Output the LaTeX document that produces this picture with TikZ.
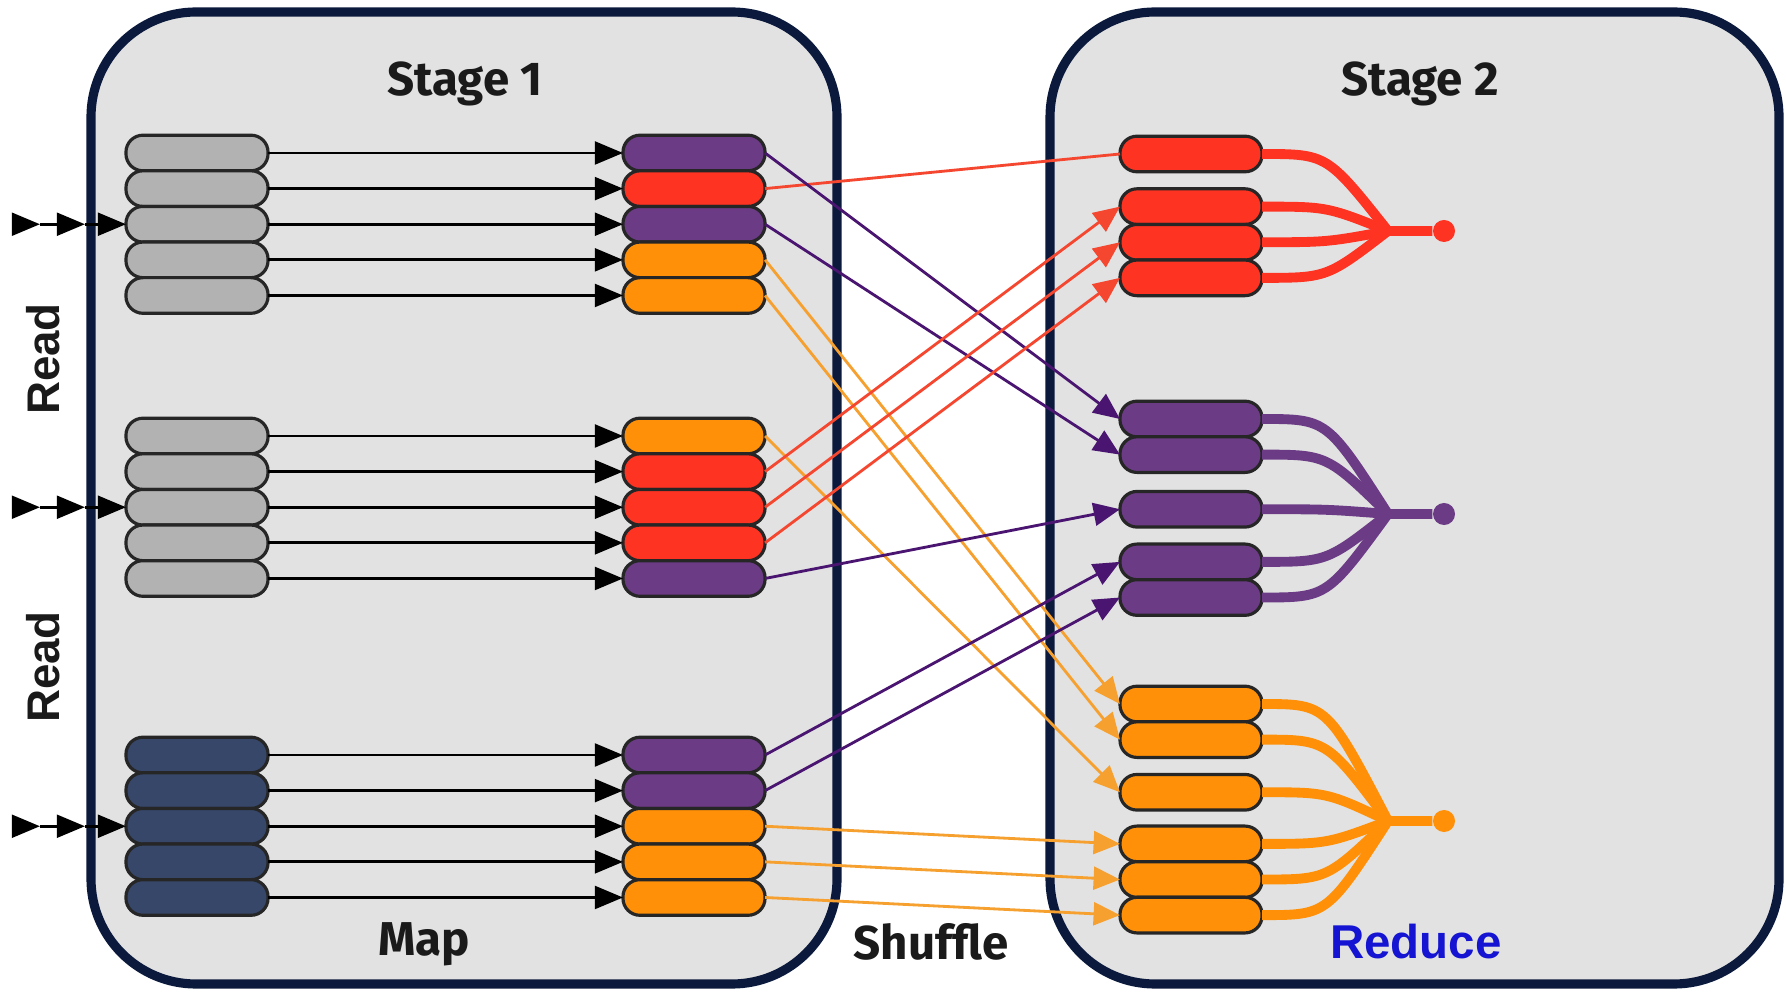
\documentclass[tikz,border=0pt]{standalone}
\usepackage{fontspec}
\setmainfont{Fira Sans}
\newfontfamily\readfont{Liberation Sans}
\usetikzlibrary{positioning,arrows.meta}

\definecolor{stageline}{HTML}{0B1A3C}
\definecolor{stagefill}{HTML}{E2E2E2}
\definecolor{rawgray}{HTML}{B2B2B2}
\definecolor{rawnavy}{HTML}{37476A}
\definecolor{kred}{HTML}{FF3322}
\definecolor{kpurple}{HTML}{6C3B86}
\definecolor{korange}{HTML}{FF9008}
\definecolor{redline}{HTML}{F5462F}
\definecolor{purline}{HTML}{4A1570}
\definecolor{oraline}{HTML}{F6A030}
\definecolor{reduceblue}{HTML}{1414D2}
\definecolor{labeltext}{HTML}{1A1A1A}

\begin{document}
\begin{tikzpicture}[x=0.01cm, y=-0.01cm, >={Triangle[length=8pt,width=6.5pt]}]
  % Define styles
  \tikzstyle{stage}=[draw=stageline, line width=2.6pt, fill=stagefill, rounded corners=1.05cm]
  \tikzstyle{pill}=[draw=black!85, line width=0.9pt, rounded corners=0.17cm, minimum width=1.42cm, minimum height=0.356cm, inner sep=0pt, outer sep=0pt]
  \tikzstyle{raw}=[pill, fill=rawgray]
  \tikzstyle{rawdark}=[pill, fill=rawnavy]
  \tikzstyle{redkey}=[pill, fill=kred]
  \tikzstyle{purkey}=[pill, fill=kpurple]
  \tikzstyle{orakey}=[pill, fill=korange]
  \tikzstyle{title}=[text=labeltext, font=\bfseries\fontsize{13.5}{16}\selectfont]
  \tikzstyle{readlabel}=[text=labeltext, font=\readfont\bfseries\fontsize{13}{16}\selectfont, rotate=90]
  \tikzstyle{sum}=[circle, inner sep=0pt, minimum size=0.22cm]
  \tikzstyle{mapline}=[->, black, line width=0.8pt]
  \tikzstyle{shuffle}=[-{Triangle[length=7.5pt,width=6.5pt]}, line width=0.8pt]
  \tikzstyle{reduce}=[line width=2.8pt]

  \fill[white] (0,0) rectangle (1786,992);
  \useasboundingbox (0,0) rectangle (1786,992);

  % Stages
  \draw[stage] (91,12) rectangle (837,984);
  \draw[stage] (1050,12) rectangle (1779,984);
  \node[title] (stage1) at (465,84) {Stage 1};
  \node[title] (stage2) at (1420,84) {Stage 2};
  \node[title] (maplabel) at (424,944) {Map};
  \node[title] (shufflelabel) at (931,942) {Shuffle};
  \node[title, text=reduceblue, font=\readfont\bfseries\fontsize{13.5}{16}\selectfont] (reducelabel) at (1416,942) {Reduce};
  \node[readlabel] (read1) at (43,359) {Read};
  \node[readlabel] (read2) at (43,667) {Read};

  % Input splits
  \node[raw] (src11) at (197,153) {};
  \node[raw, below=0pt of src11] (src12) {};
  \node[raw, below=0pt of src12] (src13) {};
  \node[raw, below=0pt of src13] (src14) {};
  \node[raw, below=0pt of src14] (src15) {};
  \node[raw] (src21) at (197,436) {};
  \node[raw, below=0pt of src21] (src22) {};
  \node[raw, below=0pt of src22] (src23) {};
  \node[raw, below=0pt of src23] (src24) {};
  \node[raw, below=0pt of src24] (src25) {};
  \node[rawdark] (src31) at (197,755) {};
  \node[rawdark, below=0pt of src31] (src32) {};
  \node[rawdark, below=0pt of src32] (src33) {};
  \node[rawdark, below=0pt of src33] (src34) {};
  \node[rawdark, below=0pt of src34] (src35) {};

  % Map outputs
  \node[purkey] (map11) at (694,153) {};
  \node[redkey, below=0pt of map11] (map12) {};
  \node[purkey, below=0pt of map12] (map13) {};
  \node[orakey, below=0pt of map13] (map14) {};
  \node[orakey, below=0pt of map14] (map15) {};
  \node[orakey] (map21) at (694,436) {};
  \node[redkey, below=0pt of map21] (map22) {};
  \node[redkey, below=0pt of map22] (map23) {};
  \node[redkey, below=0pt of map23] (map24) {};
  \node[purkey, below=0pt of map24] (map25) {};
  \node[purkey] (map31) at (694,755) {};
  \node[purkey, below=0pt of map31] (map32) {};
  \node[orakey, below=0pt of map32] (map33) {};
  \node[orakey, below=0pt of map33] (map34) {};
  \node[orakey, below=0pt of map34] (map35) {};

  % Reduce inputs
  \node[redkey] (red1) at (1191,154) {};
  \node[redkey, below=0.17cm of red1] (red2) {};
  \node[redkey, below=0pt of red2] (red3) {};
  \node[redkey, below=0pt of red3] (red4) {};
  \node[purkey] (pur1) at (1191,419) {};
  \node[purkey, below=0pt of pur1] (pur2) {};
  \node[purkey, below=0.19cm of pur2] (pur3) {};
  \node[purkey, below=0.17cm of pur3] (pur4) {};
  \node[purkey, below=0pt of pur4] (pur5) {};
  \node[orakey] (ora1) at (1191,704) {};
  \node[orakey, below=0pt of ora1] (ora2) {};
  \node[orakey, below=0.17cm of ora2] (ora3) {};
  \node[orakey, below=0.16cm of ora3] (ora4) {};
  \node[orakey, below=0pt of ora4] (ora5) {};
  \node[orakey, below=0pt of ora5] (ora6) {};
  \node[sum, fill=kred] (redsum) at (1444,231) {};
  \node[sum, fill=kpurple] (pursum) at (1444,514) {};
  \node[sum, fill=korange] (orasum) at (1444,821) {};
  \coordinate (redjoin) at (1388,231);
  \coordinate (purjoin) at (1388,514);
  \coordinate (orajoin) at (1388,821);

  % Reads
  \coordinate (in1) at ([xshift=-1.12cm]src13.west);
  \coordinate (in1b) at ([xshift=-0.86cm]src13.west);
  \coordinate (in1c) at ([xshift=-0.41cm]src13.west);
  \coordinate (in2) at ([xshift=-1.12cm]src23.west);
  \coordinate (in2b) at ([xshift=-0.86cm]src23.west);
  \coordinate (in2c) at ([xshift=-0.41cm]src23.west);
  \coordinate (in3) at ([xshift=-1.12cm]src33.west);
  \coordinate (in3b) at ([xshift=-0.86cm]src33.west);
  \coordinate (in3c) at ([xshift=-0.41cm]src33.west);
  \draw[mapline] (in1) -- (in1b);
  \draw[mapline] (in1b) -- (in1c);
  \draw[mapline] (in1c) -- (src13);
  \draw[mapline] (in2) -- (in2b);
  \draw[mapline] (in2b) -- (in2c);
  \draw[mapline] (in2c) -- (src23);
  \draw[mapline] (in3) -- (in3b);
  \draw[mapline] (in3b) -- (in3c);
  \draw[mapline] (in3c) -- (src33);

  % Map
  \draw[mapline] (src11) -- (map11);
  \draw[mapline] (src12) -- (map12);
  \draw[mapline] (src13) -- (map13);
  \draw[mapline] (src14) -- (map14);
  \draw[mapline] (src15) -- (map15);
  \draw[mapline] (src21) -- (map21);
  \draw[mapline] (src22) -- (map22);
  \draw[mapline] (src23) -- (map23);
  \draw[mapline] (src24) -- (map24);
  \draw[mapline] (src25) -- (map25);
  \draw[mapline] (src31) -- (map31);
  \draw[mapline] (src32) -- (map32);
  \draw[mapline] (src33) -- (map33);
  \draw[mapline] (src34) -- (map34);
  \draw[mapline] (src35) -- (map35);

  % Shuffle
  \draw[shuffle, redline, -] (map12.east) -- (red1.west);
  \draw[shuffle, purline] (map11.east) -- (pur1.west);
  \draw[shuffle, purline] (map13.east) -- (pur2.west);
  \draw[shuffle, oraline] (map14.east) -- (ora1.west);
  \draw[shuffle, oraline] (map15.east) -- (ora2.west);
  \draw[shuffle, oraline] (map21.east) -- (ora3.west);
  \draw[shuffle, redline] (map22.east) -- (red2.west);
  \draw[shuffle, redline] (map23.east) -- (red3.west);
  \draw[shuffle, redline] (map24.east) -- (red4.west);
  \draw[shuffle, purline] (map25.east) -- (pur3.west);
  \draw[shuffle, purline] (map31.east) -- (pur4.west);
  \draw[shuffle, purline] (map32.east) -- (pur5.west);
  \draw[shuffle, oraline] (map33.east) -- (ora4.west);
  \draw[shuffle, oraline] (map34.east) -- (ora5.west);
  \draw[shuffle, oraline] (map35.east) -- (ora6.west);

  % Reduce
  \draw[reduce, kred] (red1.east) .. controls +(65,0) .. (redjoin) -- (redsum);
  \draw[reduce, kred] (red2.east) .. controls +(65,0) .. (redjoin);
  \draw[reduce, kred] (red3.east) .. controls +(65,0) .. (redjoin);
  \draw[reduce, kred] (red4.east) .. controls +(65,0) .. (redjoin);
  \draw[reduce, kpurple] (pur1.east) .. controls +(65,0) .. (purjoin) -- (pursum);
  \draw[reduce, kpurple] (pur2.east) .. controls +(65,0) .. (purjoin);
  \draw[reduce, kpurple] (pur3.east) .. controls +(65,0) .. (purjoin);
  \draw[reduce, kpurple] (pur4.east) .. controls +(65,0) .. (purjoin);
  \draw[reduce, kpurple] (pur5.east) .. controls +(65,0) .. (purjoin);
  \draw[reduce, korange] (ora1.east) .. controls +(65,0) .. (orajoin) -- (orasum);
  \draw[reduce, korange] (ora2.east) .. controls +(65,0) .. (orajoin);
  \draw[reduce, korange] (ora3.east) .. controls +(65,0) .. (orajoin);
  \draw[reduce, korange] (ora4.east) .. controls +(65,0) .. (orajoin);
  \draw[reduce, korange] (ora5.east) .. controls +(65,0) .. (orajoin);
  \draw[reduce, korange] (ora6.east) .. controls +(65,0) .. (orajoin);
\end{tikzpicture}
\end{document}
